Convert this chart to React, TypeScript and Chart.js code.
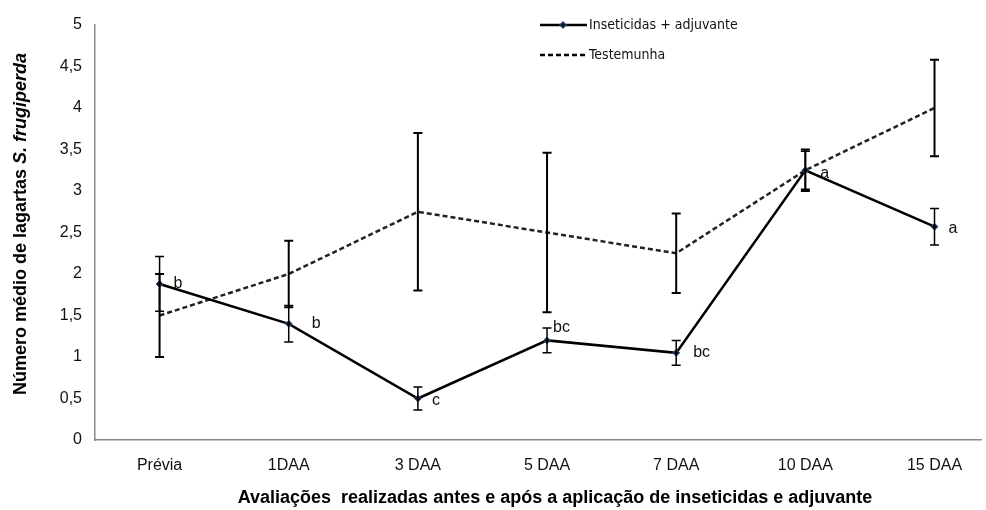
import React, { useEffect, useRef } from "react";
import { Chart, registerables } from "chart.js";

Chart.register(...registerables);

const CATEGORIES = ["Prévia", "1DAA", "3 DAA", "5 DAA", "7 DAA", "10 DAA", "15 DAA"];
const INSETICIDAS = [1.88, 1.4, 0.5, 1.2, 1.05, 3.25, 2.57];
const INSETICIDAS_ERR = [0.33, 0.22, 0.14, 0.15, 0.15, 0.23, 0.22];
const TESTEMUNHA = [1.5, 2.0, 2.75, 2.5, 2.25, 3.25, 4.0];
const TESTEMUNHA_ERR = [0.5, 0.4, 0.95, 0.96, 0.48, 0.25, 0.58];
const LETTERS = ["b", "b", "c", "bc", "bc", "a", "a"];
const Y_TICKS = [0, 0.5, 1, 1.5, 2, 2.5, 3, 3.5, 4, 4.5, 5];

const SERIES_NAMES = ["Inseticidas + adjuvante", "Testemunha"];
const X_TITLE = "Avaliações  realizadas antes e após a aplicação de inseticidas e adjuvante";
const Y_TITLE_A = "Número médio de lagartas ";
const Y_TITLE_B = "S. frugiperda";

// label offsets (styling only)
const LETTER_OFFSETS: [number, number][] = [
  [14, 0], [23, 0], [14, 2], [6, -13], [17, 0], [15, 3], [14, 2],
];

const FONT = "'Liberation Sans', Arial, sans-serif";

const overlayPlugin = {
  id: "overlay",
  afterDatasetsDraw(chart: any) {
    const ctx = chart.ctx;
    const xs = chart.scales.x;
    const ys = chart.scales.y;
    ctx.save();
    const drawBar = (vals: number[], errs: number[], lw: number) => {
      ctx.strokeStyle = "#000";
      ctx.lineWidth = lw;
      ctx.setLineDash([]);
      vals.forEach((v, i) => {
        const x = xs.getPixelForValue(i);
        const yt = ys.getPixelForValue(v + errs[i]);
        const yb = ys.getPixelForValue(v - errs[i]);
        ctx.beginPath();
        ctx.moveTo(x, yt);
        ctx.lineTo(x, yb);
        ctx.moveTo(x - 4.5, yt);
        ctx.lineTo(x + 4.5, yt);
        ctx.moveTo(x - 4.5, yb);
        ctx.lineTo(x + 4.5, yb);
        ctx.stroke();
      });
    };
    drawBar(TESTEMUNHA, TESTEMUNHA_ERR, 2);
    drawBar(INSETICIDAS, INSETICIDAS_ERR, 1.5);

    ctx.fillStyle = "#111";
    ctx.font = `16px ${FONT}`;
    ctx.textAlign = "left";
    ctx.textBaseline = "middle";
    LETTERS.forEach((l, i) => {
      const x = xs.getPixelForValue(i) + LETTER_OFFSETS[i][0];
      const y = ys.getPixelForValue(INSETICIDAS[i]) + LETTER_OFFSETS[i][1];
      ctx.fillText(l, x, y);
    });
    ctx.restore();
  },
  afterDraw(chart: any) {
    const ctx = chart.ctx;
    ctx.save();
    const lx0 = 540, lx1 = 587;
    ctx.strokeStyle = "#000";
    ctx.lineWidth = 2.5;
    ctx.setLineDash([]);
    ctx.beginPath();
    ctx.moveTo(lx0, 25);
    ctx.lineTo(lx1, 25);
    ctx.stroke();
    ctx.fillStyle = "#111827";
    ctx.strokeStyle = "#3d5f85";
    ctx.lineWidth = 1;
    ctx.beginPath();
    ctx.moveTo(563, 21.5);
    ctx.lineTo(566.5, 25);
    ctx.lineTo(563, 28.5);
    ctx.lineTo(559.5, 25);
    ctx.closePath();
    ctx.fill();
    ctx.stroke();
    ctx.strokeStyle = "#000";
    ctx.lineWidth = 2.5;
    ctx.setLineDash([5, 3]);
    ctx.beginPath();
    ctx.moveTo(lx0, 55);
    ctx.lineTo(lx1, 55);
    ctx.stroke();
    ctx.setLineDash([]);
    ctx.fillStyle = "#111";
    ctx.font = `14px 'Liberation Sans Narrow', 'DejaVu Sans Condensed', sans-serif`;
    ctx.textAlign = "left";
    ctx.textBaseline = "middle";
    ctx.fillText(SERIES_NAMES[0], 589, 25);
    ctx.fillText(SERIES_NAMES[1], 589, 55);

    ctx.font = `bold 18px ${FONT}`;
    ctx.textAlign = "center";
    ctx.fillStyle = "#000";
    ctx.fillText(X_TITLE, 555, 498);

    ctx.translate(21, 224);
    ctx.rotate(-Math.PI / 2);
    const fa = `bold 18px ${FONT}`;
    const fb = `italic bold 18px ${FONT}`;
    ctx.font = fa;
    const wa = ctx.measureText(Y_TITLE_A).width;
    ctx.font = fb;
    const wb = ctx.measureText(Y_TITLE_B).width;
    const start = -(wa + wb) / 2;
    ctx.textAlign = "left";
    ctx.font = fa;
    ctx.fillText(Y_TITLE_A, start, 0);
    ctx.font = fb;
    ctx.fillText(Y_TITLE_B, start + wa, 0);
    ctx.restore();
  },
};

export default function App() {
  const ref = useRef<HTMLCanvasElement | null>(null);
  useEffect(() => {
    if (!ref.current) return;
    const chart = new Chart(ref.current, {
      type: "line",
      data: {
        datasets: [
          {
            label: SERIES_NAMES[0],
            data: INSETICIDAS.map((v, i) => ({ x: i, y: v })),
            borderColor: "#000",
            borderWidth: 2.5,
            pointStyle: "rectRot",
            pointRadius: 3.5,
            pointBackgroundColor: "#111827",
            pointBorderColor: "#3d5f85",
            pointBorderWidth: 1,
            tension: 0,
          },
          {
            label: SERIES_NAMES[1],
            data: TESTEMUNHA.map((v, i) => ({ x: i, y: v })),
            borderColor: "#222",
            borderWidth: 2.5,
            borderDash: [5, 3],
            pointRadius: 0,
            tension: 0,
          },
        ],
      },
      options: {
        animation: false,
        responsive: false,
        devicePixelRatio: 1,
        layout: { padding: { top: 25, right: 0, bottom: 0, left: 0 } },
        plugins: { legend: { display: false }, tooltip: { enabled: false } },
        scales: {
          x: {
            type: "linear",
            min: -0.5,
            max: 6.36,
            grid: { display: false, drawTicks: false },
            border: { display: true, color: "#8a8a8a", width: 1.5 },
            afterBuildTicks: (s: any) => {
              s.ticks = CATEGORIES.map((_, i) => ({ value: i }));
            },
            afterFit: (s: any) => {
              s.height = 70;
            },
            ticks: {
              padding: 16,
              autoSkip: false,
              maxRotation: 0,
              color: "#111",
              font: { family: FONT, size: 16 },
              callback: (v: any) => CATEGORIES[Math.round(Number(v))] ?? "",
            },
          },
          y: {
            type: "linear",
            min: 0,
            max: 5,
            grid: { display: false, drawTicks: false },
            border: { display: true, color: "#8a8a8a", width: 1.5 },
            afterBuildTicks: (s: any) => {
              s.ticks = Y_TICKS.map((v) => ({ value: v }));
            },
            afterFit: (s: any) => {
              s.width = 95;
            },
            ticks: {
              padding: 13,
              color: "#111",
              font: { family: FONT, size: 16 },
              callback: (v: any) => String(v).replace(".", ","),
            },
          },
        },
      },
      plugins: [overlayPlugin],
    });
    return () => chart.destroy();
  }, []);
  return (
    <div style={{ position: "absolute", left: 0, top: 0, width: 986, height: 510, background: "#fff" }}>
      <canvas ref={ref} width={986} height={510} />
    </div>
  );
}
